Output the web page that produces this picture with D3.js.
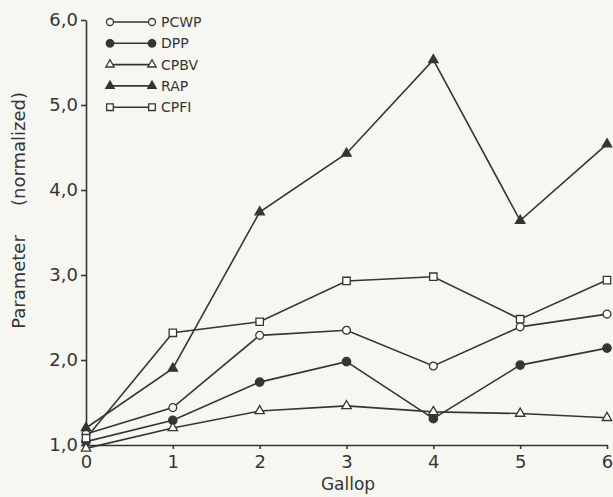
<!DOCTYPE html>
<html>
    <head>
        <script src="https://cdn.jsdelivr.net/npm/d3@7"></script>
        <style>
            body { margin: 0; background: #f7f7f2; }
            text { font-family: "DejaVu Sans", sans-serif; fill: #353535; }
            .tick text { font-size: 18px; }
            .domain, .tick line { stroke: #353535; stroke-width: 1.6; }
        </style>
    </head>
    <body>
        <svg id="chart" width="613" height="497"></svg>
    </body>
    <script>
        // gallop steps and tick labels
        let gallop = [0, 1, 2, 3, 4, 5, 6];
        let yTicks = [1, 2, 3, 4, 5, 6];
        let yTickLabels = ["1,0", "2,0", "3,0", "4,0", "5,0", "6,0"];

        // series (normalized)
        let names = ["PCWP", "DPP", "CPBV", "RAP", "CPFI"];
        let pcwp = [1.13, 1.44, 2.29, 2.35, 1.93, 2.39, 2.54];
        let dpp  = [1.04, 1.29, 1.74, 1.98, 1.31, 1.94, 2.14];
        let cpbv = [0.96, 1.20, 1.40, 1.46, 1.39, 1.37, 1.32];
        let rap  = [1.20, 1.90, 3.74, 4.43, 5.53, 3.64, 4.54];
        let cpfi = [1.08, 2.32, 2.45, 2.93, 2.98, 2.48, 2.94];

        let series = [
            {name: names[0], values: pcwp, shape: d3.symbolCircle, filled: false, size: 48},
            {name: names[1], values: dpp, shape: d3.symbolCircle, filled: true, size: 55},
            {name: names[2], values: cpbv, shape: d3.symbolTriangle, filled: false, size: 38},
            {name: names[3], values: rap, shape: d3.symbolTriangle, filled: true, size: 38},
            {name: names[4], values: cpfi, shape: d3.symbolSquare, filled: false, size: 55}
        ];

        let svg = d3.select("#chart");
        let ink = "#353535";

        let x = d3.scaleLinear().domain([0, 6]).range([86, 607]);
        let y = d3.scaleLinear().domain([1, 6]).range([445, 20]);

        // axes
        svg.append("g")
            .attr("transform", "translate(0,445)")
            .call(d3.axisBottom(x).tickValues(gallop).tickFormat(d => String(d))
                .tickSizeInner(4).tickSizeOuter(0).tickPadding(6));
        svg.append("g")
            .attr("transform", "translate(86,0)")
            .call(d3.axisLeft(y).tickValues(yTicks).tickFormat((d, i) => yTickLabels[i])
                .tickSizeInner(5).tickSizeOuter(0).tickPadding(3));
        svg.selectAll(".tick text").attr("font-family", null);

        // lines
        let line = d3.line()
            .x((d, i) => x(gallop[i]))
            .y(d => y(d));

        svg.append("g").selectAll("path")
            .data(series)
            .enter()
            .append("path")
            .attr("d", s => line(s.values))
            .attr("fill", "none")
            .attr("stroke", ink)
            .attr("stroke-width", 1.6);

        function drawMarker(g, s, px, py, k) {
            g.append("path")
                .attr("d", d3.symbol().type(s.shape).size(s.size * k)())
                .attr("transform", `translate(${px},${py})`)
                .attr("fill", s.filled ? ink : "#fff")
                .attr("stroke", ink)
                .attr("stroke-width", 1.3);
        }

        let marks = svg.append("g");
        for (let s of series) {
            s.values.forEach((v, i) => drawMarker(marks, s, x(gallop[i]), y(v), 1));
        }

        // legend
        let legend = svg.append("g");
        series.forEach((s, i) => {
            let ly = 22 + i * 21.3;
            legend.append("line")
                .attr("x1", 110).attr("x2", 152)
                .attr("y1", ly).attr("y2", ly)
                .attr("stroke", ink).attr("stroke-width", 1.6);
            drawMarker(legend, s, 110, ly, 0.8);
            drawMarker(legend, s, 152, ly, 0.8);
            legend.append("text")
                .attr("x", 161).attr("y", ly)
                .attr("dy", "0.36em")
                .style("font-size", "14px")
                .text(s.name);
        });

        // axis titles
        svg.append("text")
            .attr("x", 348).attr("y", 490)
            .attr("text-anchor", "middle")
            .style("font-size", "17px")
            .text("Gallop");
        svg.append("text")
            .attr("transform", "translate(25,282) rotate(-90)")
            .attr("text-anchor", "middle")
            .style("font-size", "18px")
            .text("Parameter");
        svg.append("text")
            .attr("transform", "translate(25,149) rotate(-90)")
            .attr("text-anchor", "middle")
            .style("font-size", "18px")
            .text("(normalized)");
    </script>
</html>
